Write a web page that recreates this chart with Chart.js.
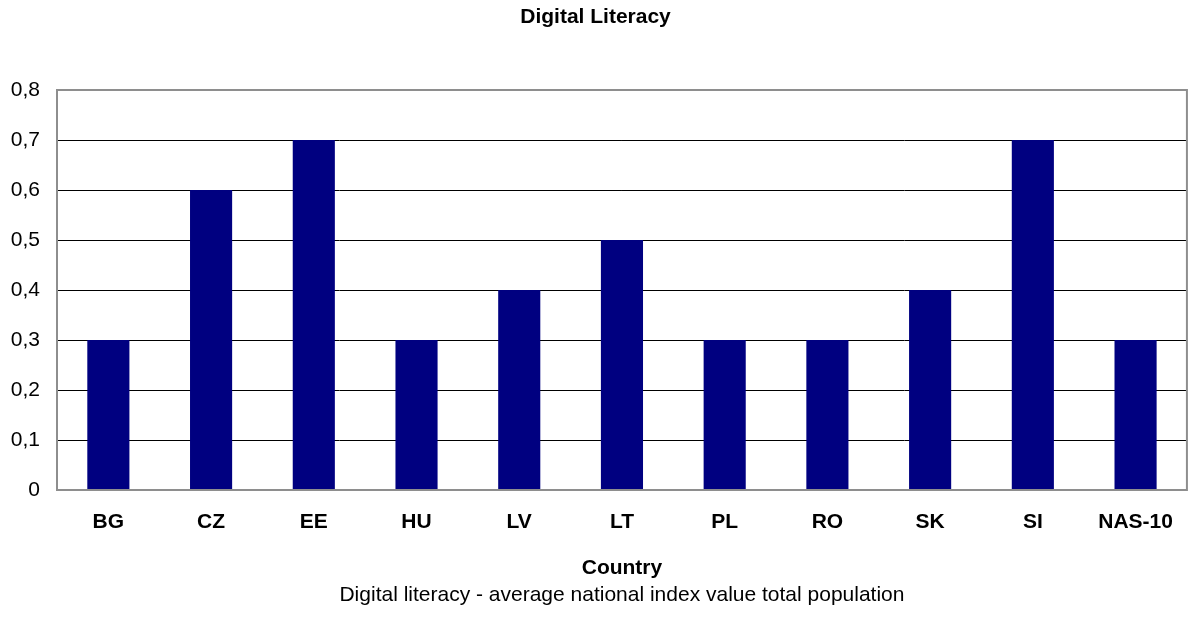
<!DOCTYPE html>
<html>
<head>
<meta charset="utf-8">
<title>Digital Literacy</title>
<script src="https://cdn.jsdelivr.net/npm/chart.js@4/dist/chart.umd.min.js"></script>
<style>
  html, body { margin: 0; padding: 0; background: #ffffff; }
  #wrap { width: 1193px; height: 618px; }
</style>
</head>
<body>
<div id="wrap"><canvas id="chart" width="1193" height="618"></canvas></div>
<script>
// Average national digital literacy index, total population
const countries = ['BG', 'CZ', 'EE', 'HU', 'LV', 'LT', 'PL', 'RO', 'SK', 'SI', 'NAS-10'];
const indexValues = [0.3, 0.6, 0.7, 0.3, 0.4, 0.5, 0.3, 0.3, 0.4, 0.7, 0.3];
const yTicks = [0, 0.1, 0.2, 0.3, 0.4, 0.5, 0.6, 0.7, 0.8];

const FONT = "'Liberation Sans', Arial, Helvetica, sans-serif";
const SIZE = 21;

// Grey frame around the plot area
const plotFrame = {
  id: 'plotFrame',
  afterDatasetsDraw(chart) {
    const { ctx, chartArea: a } = chart;
    ctx.save();
    ctx.strokeStyle = '#8e8e8e';
    ctx.lineWidth = 2;
    ctx.strokeRect(a.left, a.top, a.right - a.left, a.bottom - a.top);
    ctx.restore();
  }
};

new Chart(document.getElementById('chart'), {
  type: 'bar',
  data: {
    labels: countries,
    datasets: [{
      label: 'Digital literacy - average national index value total population',
      data: indexValues,
      backgroundColor: '#000080',
      borderWidth: 0,
      categoryPercentage: 1.0,
      barPercentage: 0.41
    }]
  },
  options: {
    responsive: false,
    animation: false,
    layout: { padding: { left: 0, right: 2, top: 0, bottom: 0 } },
    plugins: {
      legend: { display: false },
      tooltip: { enabled: false },
      title: {
        display: true,
        text: 'Digital Literacy',
        color: '#000000',
        font: { family: FONT, size: SIZE, weight: 'bold', lineHeight: 1.2 },
        padding: { top: 4.4, bottom: 60.4 }
      },
      subtitle: {
        display: true,
        position: 'bottom',
        fullSize: false,
        text: 'Digital literacy - average national index value total population',
        color: '#000000',
        font: { family: FONT, size: SIZE, weight: 'normal', lineHeight: 1.2 },
        padding: { top: 2, bottom: 10.4 }
      }
    },
    scales: {
      x: {
        grid: { display: false, drawTicks: false },
        border: { display: false },
        ticks: {
          color: '#000000',
          padding: 20,
          maxRotation: 0,
          autoSkip: false,
          font: { family: FONT, size: SIZE, weight: 'bold', lineHeight: 1.2 }
        },
        title: {
          display: true,
          text: 'Country',
          color: '#000000',
          font: { family: FONT, size: SIZE, weight: 'bold', lineHeight: 1.2 },
          padding: { top: 0, bottom: 0 }
        }
      },
      y: {
        min: 0,
        max: 0.8,
        afterBuildTicks(scale) {
          scale.ticks = yTicks.map(v => ({ value: v }));
        },
        afterFit(scale) {
          scale.width = 57;
        },
        grid: { color: '#000000', lineWidth: 1, drawTicks: false },
        border: { display: false },
        ticks: {
          color: '#000000',
          padding: 17,
          font: { family: FONT, size: SIZE, lineHeight: 1.2 },
          callback: v => String(Math.round(v * 10) / 10).replace('.', ',')
        }
      }
    }
  },
  plugins: [plotFrame]
});
</script>
</body>
</html>
